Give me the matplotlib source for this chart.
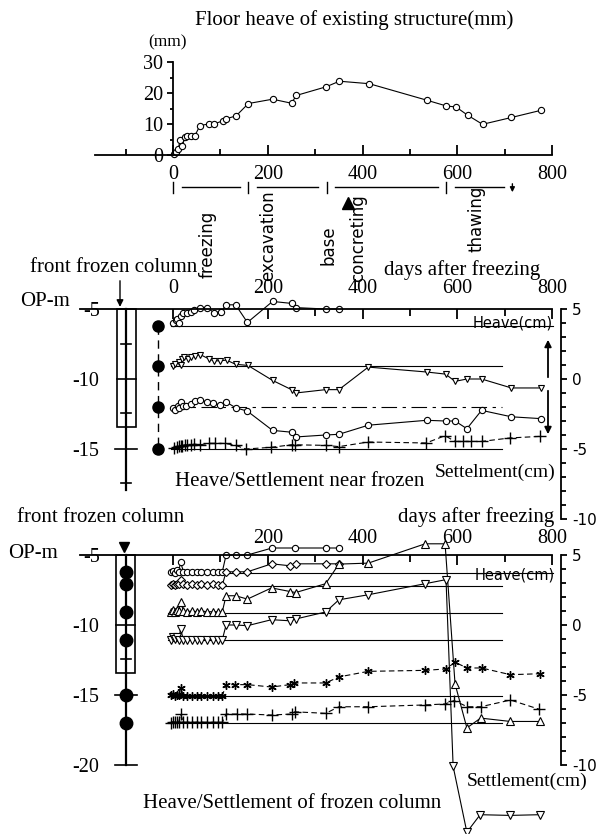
import matplotlib
matplotlib.use("Agg")
import matplotlib.pyplot as plt
from matplotlib import transforms as mtrans
from matplotlib.patches import Rectangle

# ------------------------------------------------------------------ data
TOP_DAYS = [2, 6, 11, 15, 20, 25, 30, 37, 46, 57, 75, 86, 105, 112, 133, 159,
            210, 250, 260, 323, 351, 414, 535, 577, 597, 622, 653, 714, 776]
TOP_MM = [0.3, 1.0, 1.8, 5.0, 2.9, 5.9, 6.0, 6.0, 6.2, 9.5, 10.0, 10.0, 11.0,
          11.7, 12.6, 16.6, 18.0, 16.7, 19.2, 22.0, 23.8, 23.0, 17.7, 15.8,
          15.5, 12.8, 9.9, 12.1, 14.4]

PHASE_EDGES = [0, 159, 324, 577, 716]
PHASE_LABELS = ["freezing", "excavation", "base", "concreting", "thawing"]
CONCRETING_DAY = 370

# middle panel: heave/settlement near frozen column (cm, relative to baseline)
MID_BASE = [-6.2, -9.1, -12.0, -15.0]
M1_DAYS = [0, 6, 8, 13, 16, 21, 29, 38, 45, 57, 72, 86, 102, 112, 132, 157,
           210, 250, 259, 322, 350]
M1_DISP = [0.2, 0.4, 0.5, 0.2, 0.7, 0.9, 0.9, 1.0, 1.1, 1.3, 1.3, 0.95, 1.0,
           1.5, 1.5, 0.24, 1.74, 1.6, 1.3, 1.2, 1.2]
M2_DAYS = [0, 5, 12, 16, 18, 24, 31, 38, 47, 57, 75, 86, 99, 113, 132, 158,
           210, 250, 259, 322, 350, 412, 535, 575, 595, 620, 651, 714, 776]
M2_DISP = [0.05, 0.15, 0.3, 0.07, 0.55, 0.7, 0.55, 0.65, 0.75, 0.85, 0.55,
           0.4, 0.4, 0.45, 0.15, 0.07, -1.0, -1.66, -1.9, -1.66, -1.66, -0.05,
           -0.4, -0.55, -1.07, -0.9, -0.9, -1.54, -1.54]
M3_DAYS = [0, 5, 10, 13, 16, 21, 28, 38, 47, 57, 72, 85, 99, 112, 132, 157,
           210, 250, 259, 322, 350, 412, 535, 575, 595, 620, 651, 714, 776]
M3_DISP = [-0.05, -0.2, 0.1, -0.1, 0.36, 0.05, 0.1, 0.2, 0.4, 0.5, 0.36, 0.3,
           0.12, 0.36, -0.05, -0.3, -1.67, -1.8, -2.14, -2.0, -1.95, -1.3,
           -0.95, -1.0, -1.0, -1.55, -0.24, -0.7, -0.83]
M4_DAYS = [3, 8, 12, 16, 20, 25, 30, 38, 45, 57, 75, 88, 109, 132, 154, 207,
           250, 257, 322, 350, 412, 534, 574, 595, 612, 628, 651, 711, 774]
M4_DISP = [0.1, 0.15, 0.2, 0.25, 0.25, 0.3, 0.3, 0.3, 0.35, 0.3, 0.4, 0.4,
           0.4, 0.26, 0.0, 0.12, 0.3, 0.3, 0.26, 0.17, 0.5, 0.43, 0.95, 0.54,
           0.54, 0.54, 0.54, 0.79, 0.9]

# bottom panel: heave/settlement of frozen column
BOT_BASE = [-6.3, -7.2, -9.15, -11.1, -15.1, -17.0]
BOT_SENSORS = [-6.2, -7.1, -9.1, -11.1, -15.0, -17.0]
EARLY_DAYS = [-5, 0, 4, 8, 12, 16, 22, 30, 40, 50, 60, 72, 84, 95, 104]
B1_DAYS = EARLY_DAYS + [112, 132, 157, 209, 257, 322, 351]
B1_DISP = [0.1, 0.15, 0.05, 0.2, 0.1, 0.8, 0.1, 0.1, 0.1, 0.1, 0.1, 0.1, 0.1,
           0.1, 0.1] + [1.3, 1.3, 1.3, 1.8, 1.8, 1.8, 1.8]
B2_DAYS = EARLY_DAYS + [112, 132, 157, 208, 247, 259, 322, 350]
B2_DISP = [0.05, 0.1, 0.05, 0.15, 0.1, 0.4, 0.1, 0.05, 0.1, 0.05, 0.1, 0.05,
           0.1, 0.05, 0.05] + [1.0, 1.0, 1.0, 1.57, 1.43, 1.57, 1.57, 1.57]
B3_DAYS = EARLY_DAYS + [112, 132, 157, 208, 247, 259, 322, 350, 412, 532, 574,
                        595, 620, 649, 712, 774]
B3_DISP = [0.1, 0.2, 0.1, 0.2, 0.15, 0.8, 0.15, 0.1, 0.15, 0.1, 0.15, 0.1,
           0.1, 0.1, 0.1] + [1.24, 1.24, 1.0, 1.8, 1.54, 1.47, 2.1, 3.5, 3.57,
                             4.95, 4.95, -5.05, -8.2, -7.5, -7.74, -7.74]
B4_DAYS = EARLY_DAYS + [112, 132, 157, 208, 247, 259, 322, 350, 412, 532, 576,
                        591, 620, 648, 711, 774]
B4_DISP = [0.05, 0.25, 0.1, 0.25, 0.05, 0.8, 0.05, 0.05, 0.05, 0.05, 0.05,
           0.05, 0.05, 0.05, 0.05] + [1.1, 1.1, 1.05, 1.48, 1.4, 1.53, 2.03,
                                      2.9, 3.26, 4.05, 4.34, -9.0, -13.7,
                                      -12.45, -12.5, -12.45]
B5_DAYS = EARLY_DAYS + [112, 130, 157, 208, 247, 255, 322, 350, 412, 532, 575,
                        595, 621, 651, 712, 774]
B5_DISP = [0.1, 0.15, 0.05, 0.1, 0.1, 0.6, 0.05, 0.05, 0.05, 0.05, 0.05,
           0.05, 0.05, 0.05, 0.05] + [0.84, 0.84, 0.84, 0.67, 0.84, 0.96, 0.96,
                                      1.39, 1.79, 1.86, 1.96, 2.43, 2.03, 2.03,
                                      1.55, 1.62]
B6_DAYS = EARLY_DAYS + [112, 135, 157, 208, 250, 257, 322, 350, 412, 532, 574,
                        593, 621, 649, 712, 773]
B6_DISP = [0.0, 0.1, 0.05, 0.1, 0.05, 0.64, 0.05, 0.05, 0.05, 0.05, 0.05,
           0.05, 0.05, 0.05, 0.05] + [0.64, 0.64, 0.64, 0.57, 0.64, 0.8, 0.69,
                                      1.16, 1.16, 1.29, 1.36, 1.6, 1.16, 1.16,
                                      1.64, 0.98]

# ------------------------------------------------------------------ layout helpers
W, H, DPI = 604, 834, 100
X0, SX = 173.0, 0.474            # pixel of day 0, pixels per day
SERIF = "Liberation Serif"
HAND = "DejaVu Sans"
K = "black"

plt.rcParams["font.family"] = [SERIF, "DejaVu Sans"]


def px2day(px):
    return (px - X0) / SX


def fx(px):
    return px / W


def fy(py):
    return 1 - py / H


fig = plt.figure(figsize=(W / DPI, H / DPI), dpi=DPI)
fig.patch.set_facecolor("white")
XLIM = (px2day(0), px2day(W))


def band_axes(py_top, py_bot, y_top, y_bot):
    ax = fig.add_axes([0, fy(py_bot), 1, (py_bot - py_top) / H])
    ax.set_xlim(*XLIM)
    ax.set_ylim(y_bot, y_top)
    ax.patch.set_alpha(0)
    for s in ax.spines.values():
        s.set_visible(False)
        s.set_linewidth(1.3)
    ax.set_xticks([])
    ax.set_yticks([])
    return ax


def ftext(px, py, s, size=15, ha="left", va="center", family=SERIF, **kw):
    fig.text(fx(px), fy(py), s, fontsize=size, ha=ha, va=va, family=family, **kw)


MK = dict(color=K, mfc="white", mec=K, lw=0.8, mew=0.8)

# ------------------------------------------------------------------ top panel
axT = band_axes(0, 205, 155 / 3.1, (155 - 205) / 3.1)
axT.spines["left"].set_visible(True)
axT.spines["left"].set_position(("data", 0))
axT.spines["left"].set_bounds(0, 30)
axT.spines["bottom"].set_visible(True)
axT.spines["bottom"].set_position(("data", 0))
axT.spines["bottom"].set_bounds(px2day(95), 800)
axT.set_xticks([0, 200, 400, 600, 800])
axT.set_xticks([-100, 100, 300, 500, 700], minor=True)
axT.set_yticks([0, 10, 20, 30])
axT.set_yticks([5, 15, 25], minor=True)
axT.tick_params(axis="x", which="major", direction="in", length=7, width=1.3,
                pad=7, labelsize=14.5)
axT.tick_params(axis="x", which="minor", direction="in", length=4, width=1.3)
axT.tick_params(axis="y", which="major", direction="out", length=4, width=1.3,
                pad=3, labelsize=14.5)
axT.tick_params(axis="y", which="minor", direction="out", length=2.5, width=1.3)
axT.plot(TOP_DAYS, TOP_MM, marker="o", ms=4.5, **MK)

ftext(354, 20, "Floor heave of existing structure(mm)", size=15, ha="center")
ftext(167, 42, "(mm)", size=12.5, ha="center")

bl = mtrans.blended_transform_factory(axT.transData, fig.transFigure)
for a, b in zip(PHASE_EDGES[:-1], PHASE_EDGES[1:]):
    axT.plot([a + 18, b - 18], [fy(187), fy(187)], transform=bl, color=K,
             lw=1.0, clip_on=False)
for e in PHASE_EDGES[:-1]:
    axT.plot([e, e], [fy(182), fy(193)], transform=bl, color=K, lw=1.0,
             clip_on=False)
axT.annotate("", xy=(PHASE_EDGES[-1], fy(195)),
             xytext=(PHASE_EDGES[-1], fy(181)), xycoords=bl, textcoords=bl,
             arrowprops=dict(arrowstyle="-|>", lw=1.0, color=K,
                             mutation_scale=7))
axT.plot([CONCRETING_DAY], [fy(203)], transform=bl, marker="^", ms=9,
         color=K, clip_on=False)
PHASE_LABEL_DAYS = [72, 200, 329, 390, 641]
PHASE_LABEL_BOTTOM = [278, 281, 265, 282, 252]
for lab, d, pb in zip(PHASE_LABELS, PHASE_LABEL_DAYS, PHASE_LABEL_BOTTOM):
    axT.text(d, fy(pb), lab, transform=bl, rotation=90, ha="center",
             va="bottom", fontsize=12, family=HAND)

# ------------------------------------------------------------------ depth panels


def depth_panel(py_top, py_bot, py_m5, labels_x, xlabel_pad, depth_ticks):
    # depth d  ->  pixel py = py_m5 + 14 * (-5 - d)
    y_top = -5 - (py_top - py_m5) / 14
    y_bot = -5 - (py_bot - py_m5) / 14
    ax = band_axes(py_top, py_bot, y_top, y_bot)
    ax.spines["top"].set_visible(True)
    ax.spines["top"].set_position(("data", -5))
    ax.spines["top"].set_bounds(px2day(80), 800)
    ax.xaxis.set_ticks_position("top")
    ax.set_xticks([0, 200, 400, 600, 800])
    ax.set_xticklabels(labels_x)
    ax.set_xticks([100, 300, 500, 700], minor=True)
    ax.tick_params(axis="x", which="major", direction="in", length=7,
                   width=1.3, pad=xlabel_pad, labelsize=14.5)
    ax.tick_params(axis="x", which="minor", direction="in", length=5,
                   width=1.3)
    ax.spines["left"].set_position(("data", px2day(101)))
    ax.yaxis.set_ticks_position("left")
    ax.set_yticks(depth_ticks)
    ax.set_yticklabels([f"{t:g}" for t in depth_ticks])
    ax.tick_params(axis="y", which="major", length=0, pad=1, labelsize=14.5)
    # right heave/settlement scale (cm) ; 1 cm  <-> 1 m of depth
    sec = ax.secondary_yaxis(561 / W, functions=(lambda d: d + 10,
                                                 lambda c: c - 10))
    sec.set_yticks([5, 0, -5, -10])
    sec.set_yticklabels(["5", "0", "-5", "-10"])
    sec.set_yticks(list(range(-9, 5)), minor=True)
    sec.spines["right"].set_bounds(-10, 5)
    sec.spines["right"].set_linewidth(1.3)
    sec.tick_params(axis="y", which="major", direction="out", length=4,
                    width=1.3, pad=4, labelsize=11)
    sec.tick_params(axis="y", which="minor", direction="out", length=3.5,
                    width=1.3)
    for t in sec.get_yticklabels():
        t.set_family(HAND)
    return ax


# ------------------------------------------------------------------ middle panel
axM = depth_panel(255, 530, 309, ["0", "200", "400", "600", "800"], 8,
                  [-5, -10, -15])
ftext(20, 302, "OP-m", size=15)
ftext(30, 267, "front frozen column", size=15)
ftext(540, 270, "days after freezing", size=15, ha="right")
ftext(175, 482, "Heave/Settlement near frozen", size=15)
ftext(556, 472, "Settelment(cm)", size=14, ha="right")
ftext(553, 323, "Heave(cm)", size=10.5, ha="right", family=HAND)

cl, cr, cc = px2day(117), px2day(136), px2day(126)
axM.add_patch(Rectangle((cl, -13.4), cr - cl, 8.4, fill=False, lw=1.2,
                        ec=K))
axM.plot([cl, cr], [-10, -10], color=K, lw=1.2)
axM.plot([cc, cc], [-5, -17.9], color=K, lw=1.6)
for dep, hw in [(-7.5, 5), (-12.4, 5), (-15, 11), (-17.4, 5)]:
    axM.plot([cc - hw / SX, cc + hw / SX], [dep, dep], color=K, lw=1.2)
axM.annotate("", xy=(px2day(120), -5.05), xytext=(px2day(120), (239 - 278) / 14),
             arrowprops=dict(arrowstyle="-|>", lw=1.0, color=K,
                             mutation_scale=10))
sx = px2day(158)
axM.plot([sx, sx], [MID_BASE[0], MID_BASE[-1]], color=K, lw=1.0,
         ls=(0, (6, 4)))
axM.plot([sx] * 4, MID_BASE, "o", color=K, ms=8)

axM.plot([px2day(171), px2day(553)], [MID_BASE[0]] * 2, color=K, lw=0.8)
axM.plot([px2day(171), 694], [MID_BASE[1]] * 2, color=K, lw=0.8)
axM.plot([px2day(171), 694], [MID_BASE[2]] * 2, color=K, lw=0.8,
         ls=(0, (14, 5, 3, 5)))
axM.plot([px2day(171), 694], [MID_BASE[3]] * 2, color=K, lw=0.8)

axM.plot(M1_DAYS, [MID_BASE[0] + v for v in M1_DISP], marker="o", ms=4.5, **MK)
axM.plot(M2_DAYS, [MID_BASE[1] + v for v in M2_DISP], marker="v", ms=5, **MK)
axM.plot(M3_DAYS, [MID_BASE[2] + v for v in M3_DISP], marker="o", ms=4.5, **MK)
axM.plot(M4_DAYS, [MID_BASE[3] + v for v in M4_DISP], marker="+", ms=8,
         color=K, lw=0.8, mew=1.0, ls=(0, (5, 3)))

ax_x = px2day(548)
axM.annotate("", xy=(ax_x, (239 - 337) / 14), xytext=(ax_x, (239 - 380) / 14),
             arrowprops=dict(arrowstyle="-|>", lw=1.3, color=K,
                             mutation_scale=10))
axM.annotate("", xy=(ax_x, (239 - 437) / 14), xytext=(ax_x, (239 - 388) / 14),
             arrowprops=dict(arrowstyle="-|>", lw=1.3, color=K,
                             mutation_scale=10))

# ------------------------------------------------------------------ bottom panel
axB = depth_panel(530, 834, 555, ["", "200", "400", "600", "800"], 5,
                  [-5, -10, -15, -20])
ftext(8, 554, "OP-m", size=15)
ftext(17, 517, "front frozen column", size=15)
ftext(554, 517, "days after freezing", size=15, ha="right")
ftext(143, 803, "Heave/Settlement of frozen column", size=15)
ftext(467, 781, "Settlement(cm)", size=14)
ftext(555, 575, "Heave(cm)", size=10.5, ha="right", family=HAND)

cl, cr, cc = px2day(116), px2day(135), px2day(126)
axB.add_patch(Rectangle((cl, -13.4), cr - cl, 8.4, fill=False, lw=1.2,
                        ec=K))
axB.plot([cl, cr], [-10, -10], color=K, lw=1.2)
axB.plot([cc, cc], [-5, -20], color=K, lw=1.6)
for dep, hw in [(-12.4, 5), (-15, 11), (-20, 11)]:
    axB.plot([cc - hw / SX, cc + hw / SX], [dep, dep], color=K, lw=1.2)
axB.plot([cc] * len(BOT_SENSORS), BOT_SENSORS, "o", color=K, ms=9)
axB.plot([px2day(124)], [-4.45], marker="v", color=K, ms=7)

for i, b in enumerate(BOT_BASE):
    end = px2day(553) if i == 0 else 694
    axB.plot([px2day(168), end], [b, b], color=K, lw=0.8)

axB.plot(B1_DAYS, [BOT_BASE[0] + v for v in B1_DISP], marker="o", ms=4.5, **MK)
axB.plot(B2_DAYS, [BOT_BASE[1] + v for v in B2_DISP], marker="D", ms=4, **MK)
axB.plot(B3_DAYS, [BOT_BASE[2] + v for v in B3_DISP], marker="^", ms=5.5, **MK)
axB.plot(B4_DAYS, [BOT_BASE[3] + v for v in B4_DISP], marker="v", ms=5.5, **MK)
axB.plot(B5_DAYS, [BOT_BASE[4] + v for v in B5_DISP], marker=(6, 2, 0), ms=6,
         color=K, lw=0.8, mew=1.0, ls=(0, (5, 3)))
axB.plot(B6_DAYS, [BOT_BASE[5] + v for v in B6_DISP], marker="+", ms=8,
         color=K, lw=0.8, mew=1.0, ls=(0, (5, 3)))

fig.savefig("out.png", dpi=DPI, facecolor="white")
